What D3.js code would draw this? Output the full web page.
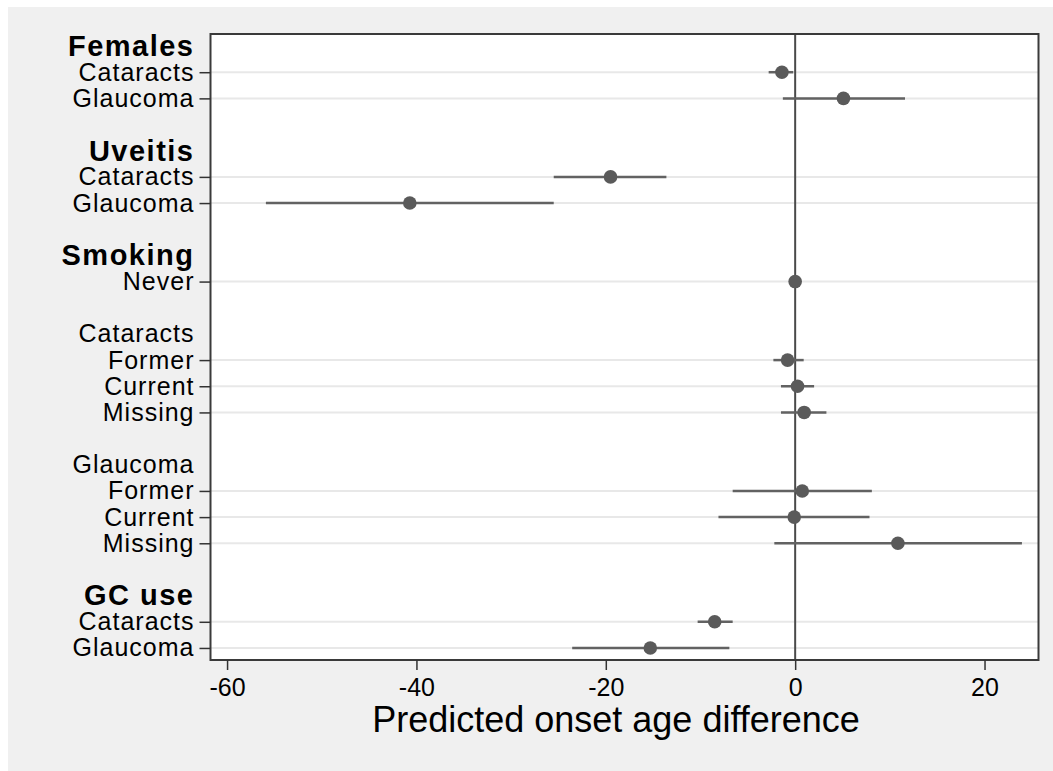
<!DOCTYPE html>
<html>
<head>
<meta charset="utf-8">
<script src="https://cdn.jsdelivr.net/npm/d3@7"></script>
<style>
  html, body { margin: 0; padding: 0; background: #fff; }
  svg { display: block; font-family: "Liberation Sans", Arial, sans-serif; }
</style>
</head>
<body>
<svg width="1053" height="771"></svg>
<script>
// rows, top to bottom ("" = spacer row)
var rowLabels = ["Females", "Cataracts", "Glaucoma", "",
  "Uveitis", "Cataracts", "Glaucoma", "",
  "Smoking", "Never", "",
  "Cataracts", "Former", "Current", "Missing", "",
  "Glaucoma", "Former", "Current", "Missing", "",
  "GC use", "Cataracts", "Glaucoma"];
// head = bold group title, sub = plain sub title, item = estimate row
var rowKinds = ["head", "item", "item", "blank",
  "head", "item", "item", "blank",
  "head", "item", "blank",
  "sub", "item", "item", "item", "blank",
  "sub", "item", "item", "item", "blank",
  "head", "item", "item"];
var estimates = [null, -1.4, 5.1, null,
  null, -19.5, -40.7, null,
  null, 0, null,
  null, -0.8, 0.25, 0.95, null,
  null, 0.75, -0.1, 10.85, null,
  null, -8.5, -15.3];
var lower = [null, -2.8, -1.3, null,
  null, -25.5, -55.9, null,
  null, 0, null,
  null, -2.3, -1.5, -1.5, null,
  null, -6.6, -8.1, -2.2, null,
  null, -10.3, -23.55];
var upper = [null, -0.2, 11.6, null,
  null, -13.6, -25.5, null,
  null, 0, null,
  null, 0.9, 2.0, 3.3, null,
  null, 8.1, 7.85, 23.95, null,
  null, -6.6, -6.95];
var xTicks = [-60, -40, -20, 0, 20];
var xTitle = "Predicted onset age difference";

var svg = d3.select("svg"),
    plot = { left: 210.5, right: 1038.5, top: 34, bottom: 660 };

var rows = rowLabels.map(function (d, i) {
  return { i: i, label: d, kind: rowKinds[i], est: estimates[i], lo: lower[i], hi: upper[i] };
});
var items = rows.filter(function (d) { return d.kind == "item"; });
var heads = rows.filter(function (d) { return d.kind == "head" || d.kind == "sub"; });

var x = d3.scaleLinear().domain([-61.75, 25.7]).range([plot.left, plot.right]);
var y = d3.scalePoint().domain(d3.range(rows.length)).range([plot.top, plot.bottom]).padding(0.46);

// outer background
svg.append("rect").attr("x", 8).attr("y", 7).attr("width", 1045).attr("height", 764).attr("fill", "#f0f0f0");
svg.append("rect").attr("x", plot.left).attr("y", plot.top)
  .attr("width", plot.right - plot.left).attr("height", plot.bottom - plot.top).attr("fill", "#fff");

// grid lines on estimate rows
svg.append("g").selectAll("line").data(items).enter().append("line")
  .attr("x1", plot.left).attr("x2", plot.right)
  .attr("y1", function (d) { return y(d.i); }).attr("y2", function (d) { return y(d.i); })
  .attr("stroke", "#e8e8e8").attr("stroke-width", 2);

// zero line
svg.append("line").attr("x1", x(0)).attr("x2", x(0)).attr("y1", plot.top).attr("y2", plot.bottom)
  .attr("stroke", "#4a4a4a").attr("stroke-width", 2);

// confidence intervals
svg.append("g").selectAll("line").data(items).enter().append("line")
  .attr("x1", function (d) { return x(d.lo); }).attr("x2", function (d) { return x(d.hi); })
  .attr("y1", function (d) { return y(d.i); }).attr("y2", function (d) { return y(d.i); })
  .attr("stroke", "#626262").attr("stroke-width", 2.5);

// point estimates
svg.append("g").selectAll("circle").data(items).enter().append("circle")
  .attr("cx", function (d) { return x(d.est); }).attr("cy", function (d) { return y(d.i); })
  .attr("r", 6.8).attr("fill", "#5a5a5a");

// frame
svg.append("rect").attr("x", plot.left).attr("y", plot.top)
  .attr("width", plot.right - plot.left).attr("height", plot.bottom - plot.top)
  .attr("fill", "none").attr("stroke", "#3a3a3a").attr("stroke-width", 2);

// left axis with item labels
var yAxis = svg.append("g").attr("transform", "translate(" + plot.left + ",0)")
  .call(d3.axisLeft(y).tickValues(items.map(function (d) { return d.i; }))
    .tickSize(11).tickPadding(6).tickFormat(function (i) { return rowLabels[i]; }));
yAxis.select(".domain").remove();
yAxis.selectAll(".tick line").attr("stroke", "#333").attr("stroke-width", 1.5);
yAxis.selectAll(".tick text").attr("fill", "#000").attr("font-size", 25)
  .attr("letter-spacing", 1).attr("x", -16)
  .attr("font-family", "Liberation Sans, Arial, sans-serif");

// group titles
svg.append("g").selectAll("text").data(heads).enter().append("text")
  .attr("x", 194.5).attr("y", function (d) { return y(d.i); }).attr("dy", "0.34em")
  .attr("text-anchor", "end")
  .attr("font-size", function (d) { return d.kind == "head" ? 29 : 25; })
  .attr("letter-spacing", function (d) { return d.kind == "head" ? 1.5 : 1; })
  .attr("font-weight", function (d) { return d.kind == "head" ? "bold" : "normal"; })
  .text(function (d) { return d.label; });

// bottom axis
var xAxis = svg.append("g").attr("transform", "translate(0," + plot.bottom + ")")
  .call(d3.axisBottom(x).tickValues(xTicks).tickSize(10).tickPadding(8)
    .tickFormat(function (d) { return String(d); }));
xAxis.select(".domain").remove();
xAxis.selectAll(".tick line").attr("stroke", "#333").attr("stroke-width", 1.5);
xAxis.selectAll(".tick text").attr("fill", "#000").attr("font-size", 25)
  .attr("font-family", "Liberation Sans, Arial, sans-serif");

svg.append("text").attr("x", 616).attr("y", 732).attr("text-anchor", "middle")
  .attr("font-size", 36).text(xTitle);
</script>
</body>
</html>
